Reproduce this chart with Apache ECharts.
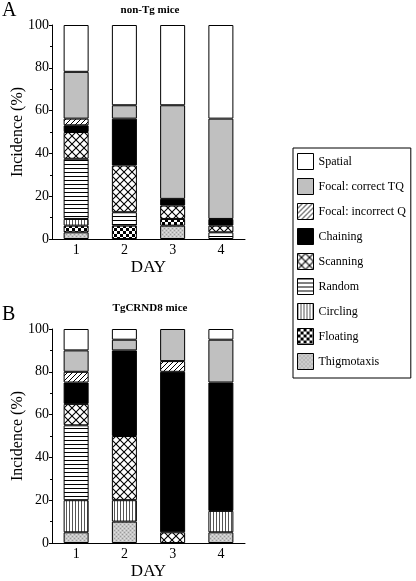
<!DOCTYPE html>
<html><head><meta charset="utf-8">
<script src="https://cdn.jsdelivr.net/npm/echarts@6/dist/echarts.min.js"></script>
<style>html,body{margin:0;padding:0;background:#fff}#c{width:416px;height:581px}</style>
</head><body><div id="c"></div>
<script>
const days = ['1','2','3','4'];
const names = ['Thigmotaxis','Floating','Circling','Random','Scanning','Chaining','Focal: incorrect Q','Focal: correct TQ','Spatial'];
const legendOrder = ['Spatial','Focal: correct TQ','Focal: incorrect Q','Chaining','Scanning','Random','Circling','Floating','Thigmotaxis'];
// non-Tg mice (%)
const nonTgThigmotaxis = [3.125, 0, 6.25, 0];
const nonTgFloating    = [3.125, 6.25, 3.125, 0];
const nonTgCircling    = [3.125, 0, 0, 0];
const nonTgRandom      = [28.125, 6.25, 0, 3.125];
const nonTgScanning    = [12.5, 21.875, 6.25, 3.125];
const nonTgChaining    = [3.125, 21.875, 3.125, 3.125];
const nonTgFocalIncorrect = [3.125, 0, 0, 0];
const nonTgFocalCorrect   = [21.875, 6.25, 43.75, 46.875];
const nonTgSpatial     = [21.875, 37.5, 37.5, 43.75];
// TgCRND8 mice (%)
const tgThigmotaxis = [5, 10, 0, 5];
const tgFloating    = [0, 0, 0, 0];
const tgCircling    = [15, 10, 0, 10];
const tgRandom      = [35, 0, 0, 0];
const tgScanning    = [10, 30, 5, 0];
const tgChaining    = [10, 40, 75, 60];
const tgFocalIncorrect = [5, 0, 5, 0];
const tgFocalCorrect   = [10, 5, 15, 20];
const tgSpatial     = [10, 5, 0, 5];
const yTicks = [0, 20, 40, 60, 80, 100];

const nonTg = [nonTgThigmotaxis, nonTgFloating, nonTgCircling, nonTgRandom, nonTgScanning, nonTgChaining, nonTgFocalIncorrect, nonTgFocalCorrect, nonTgSpatial];
const tg = [tgThigmotaxis, tgFloating, tgCircling, tgRandom, tgScanning, tgChaining, tgFocalIncorrect, tgFocalCorrect, tgSpatial];

function pat(w, h, draw) {
  const c = document.createElement('canvas'); c.width = w; c.height = h;
  const g = c.getContext('2d'); g.fillStyle = '#fff'; g.fillRect(0, 0, w, h); draw(g);
  return { image: c, repeat: 'repeat' };
}
const fills = [
  pat(4, 4, g => { g.fillStyle = '#c6c6c6'; g.fillRect(0,0,4,4); g.fillStyle = '#9a9a9a'; g.fillRect(0,0,1,1); g.fillRect(2,2,1,1); g.fillStyle = '#e0e0e0'; g.fillRect(2,0,1,1); g.fillRect(0,2,1,1); }),
  pat(6, 6, g => { g.fillStyle = '#000'; g.fillRect(0,0,3,3); g.fillRect(3,3,3,3); }),
  pat(3, 1, g => { g.fillStyle = '#555'; g.fillRect(0,0,1,1); }),
  pat(1, 4, g => { g.fillStyle = '#000'; g.fillRect(0,0,1,1); }),
  pat(8, 8, g => { g.strokeStyle = '#000'; g.lineWidth = 1.1; g.beginPath(); g.moveTo(0,0); g.lineTo(8,8); g.moveTo(0,8); g.lineTo(8,0); g.stroke(); }),
  '#000',
  pat(5, 5, g => { g.strokeStyle = '#000'; g.lineWidth = 1; g.beginPath(); g.moveTo(-1,6); g.lineTo(6,-1); g.moveTo(-1,1); g.lineTo(1,-1); g.moveTo(4,6); g.lineTo(6,4); g.stroke(); }),
  '#c0c0c0',
  '#fff'
];

const font = 'Liberation Serif';
function buildSeries(sets, gi) {
  return sets.map((vals, i) => ({
    name: names[i], type: 'bar', stack: 's' + gi, xAxisIndex: gi, yAxisIndex: gi,
    barWidth: 25,
    itemStyle: { color: fills[i], borderColor: '#000', borderWidth: 1 },
    data: vals.map(v => v === 0 ? '-' : v)
  }));
}
function xAx(gi) {
  return { type: 'category', gridIndex: gi, data: days, name: 'DAY', nameLocation: 'middle', nameGap: 20,
    nameTextStyle: { fontFamily: font, fontSize: 17, color: '#000' },
    axisLine: { lineStyle: { color: '#000', width: 1 } },
    axisTick: { alignWithLabel: true, length: 3, lineStyle: { color: '#000' } },
    axisLabel: { fontFamily: font, fontSize: 14, color: '#000', margin: 4 } };
}
function yAx(gi) {
  return { type: 'value', gridIndex: gi, min: yTicks[0], max: yTicks[yTicks.length-1], interval: 20,
    name: 'Incidence (%)', nameLocation: 'middle', nameGap: 26, nameMoveOverlap: false,
    nameTextStyle: { fontFamily: font, fontSize: 16, color: '#000' },
    axisLine: { show: true, lineStyle: { color: '#000', width: 1 } },
    axisTick: { show: true, length: 3, lineStyle: { color: '#000' } },
    minorTick: { show: true, splitNumber: 2, length: 2, lineStyle: { color: '#000' } },
    splitLine: { show: false },
    axisLabel: { fontFamily: font, fontSize: 14, color: '#000', margin: 3 } };
}
const chart = echarts.init(document.getElementById('c'));
chart.setOption({
  animation: false,
  backgroundColor: '#fff',
  textStyle: { fontFamily: font },
  title: [
    { text: 'A', left: 2, top: 1, padding: 0, textStyle: { fontFamily: font, fontSize: 20, fontWeight: 'normal', color: '#000' } },
    { text: 'non-Tg mice', left: 150, top: 5, padding: 0, textAlign: 'center', textStyle: { fontFamily: font, fontSize: 11, fontWeight: 'bold', color: '#000' } },
    { text: 'B', left: 2, top: 305, padding: 0, textStyle: { fontFamily: font, fontSize: 20, fontWeight: 'normal', color: '#000' } },
    { text: 'TgCRND8 mice', left: 150, top: 303, padding: 0, textAlign: 'center', textStyle: { fontFamily: font, fontSize: 11, fontWeight: 'bold', color: '#000' } }
  ],
  legend: {
    data: legendOrder, orient: 'vertical', left: 293, top: 148,
    padding: [5, 5, 8, 4], itemGap: 8, itemWidth: 16, itemHeight: 16, itemTextGap: 9,
    icon: 'rect', borderColor: '#000', borderWidth: 1, selectedMode: false,
    itemStyle: { borderColor: '#000', borderWidth: 1 },
    textStyle: { fontFamily: font, fontSize: 12, lineHeight: 14, color: '#000' }
  },
  grid: [
    { left: 52, top: 25, width: 193, height: 214 },
    { left: 52, top: 329, width: 193, height: 214 }
  ],
  xAxis: [xAx(0), xAx(1)],
  yAxis: [yAx(0), yAx(1)],
  series: buildSeries(nonTg, 0).concat(buildSeries(tg, 1))
});
</script></body></html>
